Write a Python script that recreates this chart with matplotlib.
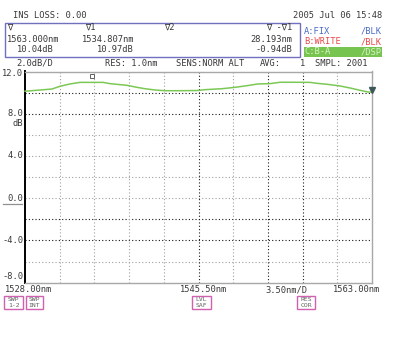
import matplotlib
matplotlib.use("Agg")
import matplotlib.pyplot as plt
from matplotlib.patches import Rectangle
from matplotlib.lines import Line2D

# ---- data ----
wavelength_nm = [1528.00, 1530.72, 1531.53, 1532.54, 1533.55, 1534.81, 1535.87, 1536.57,
                 1538.29, 1539.30, 1540.10, 1541.11, 1542.12, 1543.63, 1545.45, 1546.15,
                 1547.87, 1549.18, 1550.19, 1551.50, 1552.71, 1553.72, 1555.23, 1556.75,
                 1557.45, 1558.46, 1559.77, 1560.78, 1561.79, 1562.60, 1563.00]
level_db = [10.13, 10.34, 10.60, 10.82, 10.97, 10.97, 10.97, 10.85,
            10.69, 10.50, 10.37, 10.25, 10.18, 10.18, 10.20, 10.28,
            10.37, 10.50, 10.63, 10.82, 10.85, 10.98, 10.98, 10.97,
            10.88, 10.79, 10.63, 10.44, 10.22, 10.06, 10.04]
x_min, x_max = 1528.0, 1563.0
y_min, y_max = -8.0, 12.0
x_div = 3.5
y_div = 2.0
y_tick_vals = [12.0, 8.0, 4.0, 0.0, -4.0, -8.0]
y_tick_labels = ["12.0", "8.0", "4.0", "0.0", "-4.0", "-8.0"]
dark_h = [10.0, 8.0, -2.0, -4.0]
dark_v = [1545.5, 1552.5, 1556.0]
marker1 = (1534.807, 10.97)
marker_end = (1563.0, 10.04)

W, H = 395, 338
fig = plt.figure(figsize=(W / 100, H / 100), dpi=100)
fig.patch.set_facecolor("white")

# main plot axes
L, R, T, B = 25, 372, 71.5, 282.7
ax = fig.add_axes([L / W, 1 - B / H, (R - L) / W, (B - T) / H])
ax.set_xlim(x_min, x_max)
ax.set_ylim(y_min, y_max)
ax.set_xticks([])
ax.set_yticks([])
for s in ["top", "right", "bottom"]:
    ax.spines[s].set_color("#a8a8a8")
    ax.spines[s].set_linewidth(1.0)
ax.spines["left"].set_color("black")
ax.spines["left"].set_linewidth(1.4)

ndiv = 10
for i in range(1, ndiv):
    yv = y_min + i * y_div
    dark = any(abs(yv - d) < 1e-6 for d in dark_h)
    ax.axhline(yv, color="#181818" if dark else "#a0a0a0", lw=0.8,
               ls=(0, (1, 2)), zorder=1)
    xv = x_min + i * x_div
    dark = any(abs(xv - d) < 1e-6 for d in dark_v)
    ax.axvline(xv, color="#181818" if dark else "#a0a0a0", lw=0.8,
               ls=(0, (1, 2)), zorder=1)

ax.plot(wavelength_nm, level_db, color="#7cc855", lw=1.1, zorder=3, clip_on=False)
ax.plot([marker_end[0]], [marker_end[1] + 0.2], marker="v", ms=4.5,
        color="#3c5858", zorder=4, clip_on=False)
ax.plot([marker1[0]], [marker1[1] + 0.65], marker="s", ms=3.2, mfc="white",
        mec="#606060", mew=0.7, zorder=4, clip_on=False)

# overlay in pixel coordinates
ov = fig.add_axes([0, 0, 1, 1], zorder=-1)
ov.set_xlim(0, W)
ov.set_ylim(H, 0)
ov.axis("off")

mono = "DejaVu Sans Mono"
fs = 6.3
tc = "#383838"

def t(x, y, s, ha="left", color=tc, size=fs, **kw):
    ov.text(x, y, s, ha=ha, va="center", color=color, fontsize=size,
            family=mono, **kw)

t(13, 16, "INS LOSS: 0.00")
t(382, 16, "2005 Jul 06 15:48", ha="right")

ov.add_patch(Rectangle((5, 23), 295, 34, fill=False, ec="#7070c0", lw=1.0))
t(7, 27, "∇")
t(85, 27, "∇1")
t(164, 27, "∇2")
t(292, 27, "∇ -∇1", ha="right")
t(7, 40, "1563.000nm")
t(82, 40, "1534.807nm")
t(292, 40, "28.193nm", ha="right")
t(17, 50, "10.04dB")
t(97, 50, "10.97dB")
t(292, 50, "-0.94dB", ha="right")

t(304, 31, "A:FIX", color="#4a6ac8")
t(382, 31, "/BLK", ha="right", color="#4a6ac8")
t(304, 42, "B:WRITE", color="#e84848")
t(382, 42, "/BLK", ha="right", color="#e84848")
ov.add_patch(Rectangle((304, 47), 78, 9.5, color="#78c450", lw=0))
t(304, 52, "C:B-A", color="#d8f4c8")
t(382, 52, "/DSP", ha="right", color="#d8f4c8")

t(16, 63, "2.0dB/D")
t(105, 63, "RES: 1.0nm")
t(176, 63, "SENS:NORM ALT")
t(260, 63, "AVG:")
t(300, 63, "1")
t(315, 63, "SMPL: 2001")

# y tick labels
for v, lab in zip(y_tick_vals, y_tick_labels):
    py = T + (y_max - v) / (y_max - y_min) * (B - T)
    if v == y_max:
        py += 2
    if v == y_min:
        py -= 6
    t(23, py, lab, ha="right")
t(23, 123, "dB", ha="right")
ov.add_line(Line2D([3, 22], [204, 204], color="#909090", lw=0.9))

# x labels
t(5, 290, "1528.00nm")
t(180, 290, "1545.50nm")
t(265, 290, "3.50nm/D")
t(333, 290, "1563.00nm")

# bottom status boxes
for x0, x1, l1, l2 in [(4, 23, "SWP", "1-2"), (26, 43, "SWP", "INT"),
                       (192, 211, "LVL", "SAF"), (297, 315, "RES", "COR")]:
    ov.add_patch(Rectangle((x0, 296), x1 - x0, 13, fill=False, ec="#d060b0", lw=1.0))
    xc = (x0 + x1) / 2
    ov.text(xc, 299.5, l1, ha="center", va="center", fontsize=4.6, family=mono, color="#606060")
    ov.text(xc, 305.5, l2, ha="center", va="center", fontsize=4.6, family=mono, color="#606060")

fig.savefig("out.png", dpi=100, facecolor="white")
